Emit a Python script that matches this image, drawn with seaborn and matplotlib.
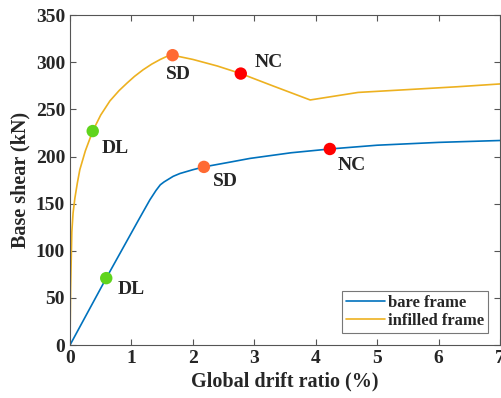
import pandas as pd
import matplotlib
matplotlib.use("Agg")
import matplotlib.pyplot as plt
import seaborn as sns

# pushover curves (drift %, base shear kN)
bare_drift = [0, 0.59, 1.11, 1.3, 1.4, 1.47, 1.53, 1.58, 1.68, 1.79, 2.0, 2.18, 2.6, 2.93, 3.6, 4.23, 5.0, 6.0, 7.0]
bare_shear = [0, 71, 132, 154, 164, 170, 173, 175, 179, 182, 186, 189, 194, 198, 204, 208, 212, 215, 217]

infill_drift = [0, 0.01, 0.03, 0.05, 0.08, 0.12, 0.16, 0.25, 0.37, 0.5, 0.65, 0.8, 0.93, 1.05,
                1.19, 1.33, 1.47, 1.57, 1.67, 2.0, 2.4, 2.78, 3.3, 3.91, 4.69, 5.5, 6.3, 7.0]
infill_shear = [0, 60, 120, 140, 156, 172, 186, 206, 227, 244, 259, 270, 278, 285,
                292, 298, 303, 306, 307.5, 303, 296, 288, 275, 260, 268, 271, 274, 277]

# performance points
pt_drift = [0.59, 2.18, 4.23, 0.37, 1.67, 2.78]
pt_shear = [71, 189, 208, 227, 307.5, 288]
pt_level = ["DL", "SD", "NC", "DL", "SD", "NC"]

level_colors = {"DL": "#5fd41c", "SD": "#ff6a33", "NC": "#ff0000"}
label_offset = [(0.18, -12), (0.15, -16), (0.12, -17), (0.14, -18), (-0.11, -20), (0.23, 12)]

sns.set_theme(style="ticks")
plt.rcParams["font.family"] = ["Liberation Serif", "DejaVu Serif"]
plt.rcParams["font.weight"] = "bold"

fig = plt.figure(figsize=(5.01, 3.98), dpi=100)
ax = fig.add_axes([0.1397, 0.133, 0.8583, 0.829])

bare = pd.DataFrame({"drift": bare_drift, "shear": bare_shear})
infill = pd.DataFrame({"drift": infill_drift, "shear": infill_shear})
pts = pd.DataFrame({"drift": pt_drift, "shear": pt_shear, "level": pt_level})

sns.lineplot(data=bare, x="drift", y="shear", color="#0072BD", lw=1.2,
             label="bare frame", ax=ax, sort=False)
sns.lineplot(data=infill, x="drift", y="shear", color="#EDB120", lw=1.2,
             label="infilled frame", ax=ax, sort=False)
sns.scatterplot(data=pts, x="drift", y="shear", hue="level", palette=level_colors,
                s=80, edgecolor="none", legend=False, ax=ax, zorder=5)

for (xv, yv, lab), (dx, dy) in zip(zip(pt_drift, pt_shear, pt_level), label_offset):
    ax.text(xv + dx, yv + dy, lab, fontsize=14, fontweight="bold", ha="left", va="center")

ax.set_xlim(0, 7)
ax.set_ylim(0, 350)
ax.set_xticks(range(0, 8))
ax.set_yticks(range(0, 351, 50))
ax.tick_params(direction="in", top=True, right=True, labelsize=14, length=4, width=0.8,
               color="#555555")
for lbl in ax.get_xticklabels() + ax.get_yticklabels():
    lbl.set_fontweight("bold")
for sp in ax.spines.values():
    sp.set_color("#555555")
    sp.set_linewidth(0.8)
ax.set_xlabel("Global drift ratio (%)", fontsize=14.5, fontweight="bold", labelpad=3)
ax.set_ylabel("Base shear (kN)", fontsize=14.5, fontweight="bold", labelpad=4)

leg = ax.legend(loc="lower right", fontsize=12, frameon=True, fancybox=False,
                edgecolor="#555555", handlelength=2.3, borderpad=0.25,
                labelspacing=0.15, handletextpad=0.2, borderaxespad=0.7)
leg.get_frame().set_linewidth(0.8)
for t in leg.get_texts():
    t.set_fontweight("bold")

fig.savefig("out.png", dpi=100)
